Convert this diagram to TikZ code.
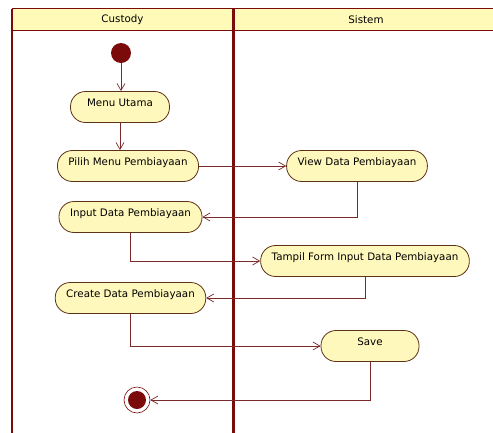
\documentclass[tikz,border=0pt]{standalone}
\usepackage{fontspec}
\setmainfont{DejaVu Sans}
\usepackage{tikz}
\usetikzlibrary{arrows.meta}
\usepackage{xcolor}
\definecolor{lanered}{HTML}{7B0A0A}
\definecolor{headyellow}{HTML}{FFFAB8}
\definecolor{actfill}{HTML}{FFF8BC}
\definecolor{actline}{HTML}{5C3317}
\definecolor{flowline}{HTML}{7A2A2A}

\begin{document}
\begin{tikzpicture}[x=1pt,y=-1pt,>={Straight Barb[length=7pt,width=8pt]},
  action/.style={draw=actline, fill=actfill, line width=0.8pt, rounded corners=15pt,
    minimum height=31pt, inner xsep=11pt, text height=8pt, text depth=9pt,
    font=\fontsize{10.3}{12}\selectfont},
  flow/.style={draw=flowline, line width=0.7pt, ->},
  lanelabel/.style={font=\fontsize{10.3}{12}\selectfont}]
\useasboundingbox (0,0) rectangle (493,432);
\clip (0,0) rectangle (493,432);
\fill[white] (0,0) rectangle (493,432);

% swimlanes
\fill[headyellow] (12,8.5) rectangle (500,30.5);
\draw[lanered, line width=1.5pt] (12,8.5) -- (500,8.5) (12,30.5) -- (500,30.5);
\draw[lanered, line width=1.2pt] (12,8.5) -- (12,440);
\draw[lanered, line width=3pt] (233.5,8.5) -- (233.5,440);
\node[lanelabel] (custody) at (122.5,20) {Custody};
\node[lanelabel] (sistem) at (366,20) {Sistem};

% actions
\node[circle, fill=lanered, minimum size=20pt, inner sep=0pt] (start) at (121,53) {};
\node[action, minimum width=99pt] (menu) at (120,107) {Menu Utama};
\node[action] (pilih) at (128,166) {Pilih Menu Pembiayaan};
\node[action] (view) at (357,166) {View Data Pembiayaan};
\node[action] (input) at (130.5,217) {Input Data Pembiayaan};
\node[action] (tampil) at (365,261) {Tampil Form Input Data Pembiayaan};
\node[action] (create) at (130.5,298) {Create Data Pembiayaan};
\node[action, minimum width=98pt] (save) at (370,346) {Save};
\node[circle, draw=lanered, fill=white, line width=0.6pt, minimum size=26pt, inner sep=0pt] (stop) at (137,400) {};
\fill[lanered] (stop.center) circle (9);

% flows
\draw[flow] (start) -- (start |- menu.north);
\draw[flow] (menu) -- (menu |- pilih.north);
\draw[flow] (pilih) -- (view);
\draw[flow] (view) |- (input);
\draw[flow] (input) |- (tampil);
\draw[flow] (tampil) |- (create);
\draw[flow] (create) |- (save);
\draw[flow] (save) |- (stop);
\end{tikzpicture}
\end{document}
